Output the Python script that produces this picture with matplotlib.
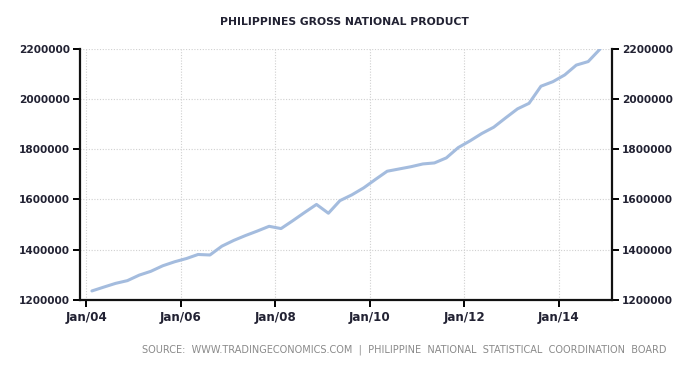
"""
Philippines gross national product, quarterly (tradingeconomics style)
"""

import pandas as pd
import matplotlib
matplotlib.use("Agg")
from matplotlib import pyplot as plt, rcParams as rcP, dates as mdates

rcP["font.family"] = ["DejaVu Sans"]

# Quarterly values 2004Q1 .. 2014Q4
quarters = pd.period_range("2004Q1", "2014Q4", freq="Q")
gnp = [1236000, 1251000, 1266000, 1277000,
       1299000, 1314000, 1336000, 1352000,
       1365000, 1381000, 1379000, 1414000,
       1437000, 1456000, 1474000, 1493000,
       1484000, 1515000, 1548000, 1580000,
       1545000, 1595000, 1618000, 1646000,
       1680000, 1712000, 1721000, 1730000,
       1741000, 1745000, 1765000, 1806000,
       1833000, 1862000, 1887000, 1924000,
       1960000, 1982000, 2050000, 2068000,
       2095000, 2134000, 2148000, 2198000]

y_ticks = [1200000, 1400000, 1600000, 1800000, 2000000, 2200000]
x_tick_years = [2004, 2006, 2008, 2010, 2012, 2014]

title = "PHILIPPINES GROSS NATIONAL PRODUCT"
source = ("SOURCE:  WWW.TRADINGECONOMICS.COM  |  PHILIPPINE  NATIONAL  "
          "STATISTICAL  COORDINATION  BOARD")

# точки в середине квартала
dates = [q.start_time + pd.DateOffset(months=1, days=14) for q in quarters]

fig = plt.figure(figsize=(6.89, 3.72), dpi=100)
ax = fig.add_axes([80 / 689, 1 - 300 / 372, (612 - 80) / 689, (300 - 48.5) / 372])

ax.plot(dates, gnp, color="#a4bcde", lw=2.2, solid_capstyle="round",
        solid_joinstyle="round", zorder=3)

ax.set_xlim(pd.Timestamp("2003-11-15"), pd.Timestamp("2015-02-15"))
ax.set_ylim(y_ticks[0], y_ticks[-1])

ax.set_xticks([pd.Timestamp(year=y, month=1, day=1) for y in x_tick_years])
ax.xaxis.set_major_formatter(mdates.DateFormatter("Jan/%y"))
ax.set_yticks(y_ticks)
ax.set_yticklabels([str(v) for v in y_ticks])

ax.grid(True, color="#d0d0d0", linestyle=(0, (1, 1.5)), linewidth=0.8)

for side in ["left", "right", "bottom"]:
    ax.spines[side].set_linewidth(1.6)
    ax.spines[side].set_color("#111111")
ax.spines["top"].set_visible(False)

ax.tick_params(axis="y", which="both", left=True, right=True, labelleft=True,
               labelright=True, length=5, width=1.4, pad=2,
               labelsize=7.6, labelcolor="#222233")
ax.tick_params(axis="x", length=5, width=1.4, pad=3, labelsize=8.6,
               labelcolor="#222233")
for lbl in ax.get_xticklabels() + ax.get_yticklabels():
    lbl.set_fontweight("bold")

fig.text(344.5 / 689, 1 - 21.7 / 372, title, ha="center", va="center",
         fontsize=7.75, fontweight="bold", color="#222233")
fig.text(666 / 689, 1 - 350 / 372, source, ha="right", va="center",
         fontsize=7.05, color="#8a8a8a")

fig.savefig("out.png", dpi=100)
